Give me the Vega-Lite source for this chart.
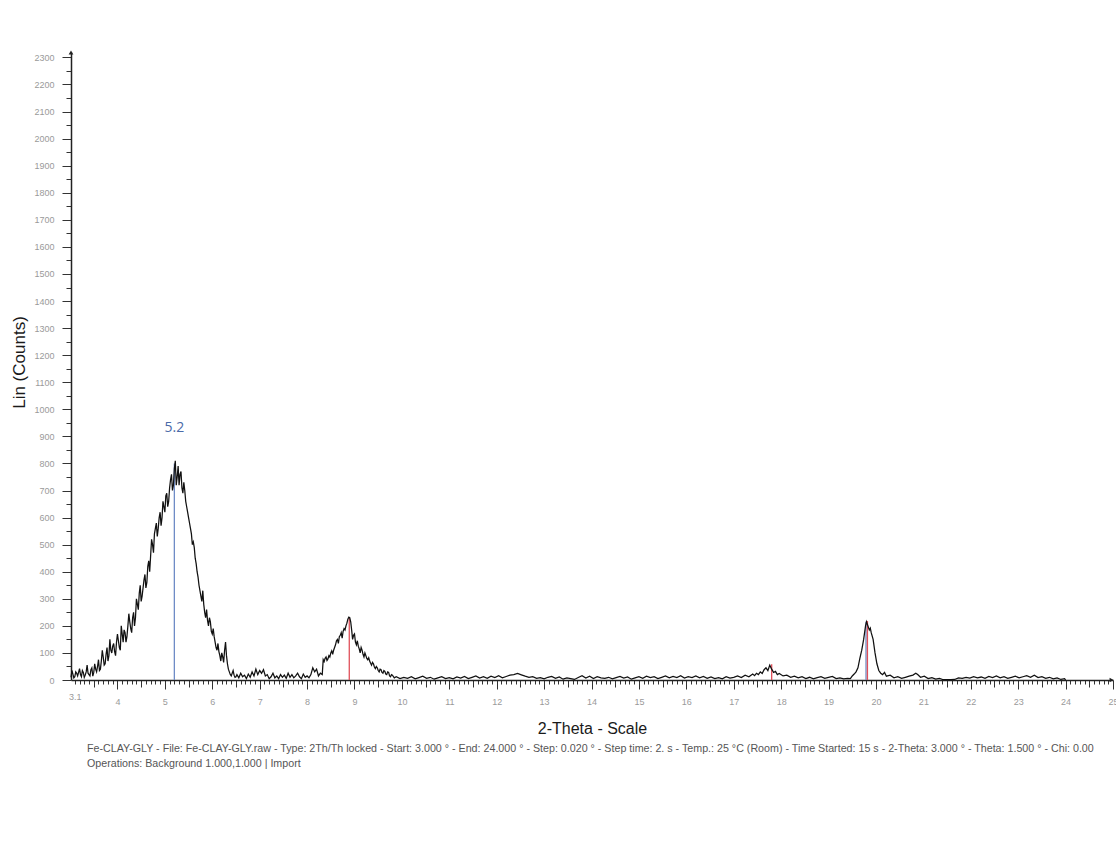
{
  "$schema": "https://vega.github.io/schema/vega-lite/v6.json",
  "width": 1042,
  "height": 628,
  "autosize": "none",
  "padding": {"left": 71, "top": 52, "right": 3, "bottom": 179},
  "background": "white",
  "config": {"view": {"stroke": null}, "font": "Liberation Sans"},
  "title": {
    "text": ["Fe-CLAY-GLY - File: Fe-CLAY-GLY.raw - Type: 2Th/Th locked - Start: 3.000 ° - End: 24.000 ° - Step: 0.020 ° - Step time: 2. s - Temp.: 25 °C (Room) - Time Started: 15 s - 2-Theta: 3.000 ° - Theta: 1.500 ° - Chi: 0.00", "Operations: Background 1.000,1.000 | Import"],
    "orient": "bottom", "anchor": "start", "frame": "group", "offset": 8, "dx": 16,
    "fontSize": 10.7, "font": "Liberation Sans", "fontWeight": "normal", "color": "#555555", "lineHeight": 15, "baseline": "top"
  },
  "datasets": {
    "xrd": [
      {"t":3.02,"c":10},{"t":3.04,"c":35},{"t":3.06,"c":22},{"t":3.08,"c":8},{"t":3.10,"c":12},{"t":3.12,"c":30},{"t":3.14,"c":25},{"t":3.16,"c":15},{"t":3.18,"c":28},{"t":3.20,"c":42},{"t":3.22,"c":20},{"t":3.24,"c":12},{"t":3.26,"c":35},{"t":3.28,"c":28},{"t":3.30,"c":10},{"t":3.32,"c":18},{"t":3.34,"c":30},{"t":3.36,"c":55},{"t":3.38,"c":25},{"t":3.40,"c":20},{"t":3.42,"c":15},{"t":3.44,"c":38},{"t":3.46,"c":45},{"t":3.48,"c":14},{"t":3.50,"c":28},{"t":3.52,"c":60},{"t":3.54,"c":40},{"t":3.56,"c":30},{"t":3.58,"c":50},{"t":3.60,"c":75},{"t":3.62,"c":35},{"t":3.64,"c":40},{"t":3.66,"c":70},{"t":3.68,"c":110},{"t":3.70,"c":85},{"t":3.72,"c":55},{"t":3.74,"c":60},{"t":3.76,"c":95},{"t":3.78,"c":120},{"t":3.80,"c":70},{"t":3.82,"c":90},{"t":3.84,"c":150},{"t":3.86,"c":110},{"t":3.88,"c":100},{"t":3.90,"c":125},{"t":3.92,"c":135},{"t":3.94,"c":105},{"t":3.96,"c":90},{"t":3.98,"c":140},{"t":4.00,"c":170},{"t":4.02,"c":145},{"t":4.04,"c":120},{"t":4.06,"c":110},{"t":4.08,"c":200},{"t":4.10,"c":170},{"t":4.12,"c":140},{"t":4.14,"c":185},{"t":4.16,"c":175},{"t":4.18,"c":140},{"t":4.20,"c":160},{"t":4.22,"c":200},{"t":4.24,"c":245},{"t":4.26,"c":215},{"t":4.28,"c":190},{"t":4.30,"c":175},{"t":4.32,"c":230},{"t":4.34,"c":250},{"t":4.36,"c":200},{"t":4.38,"c":230},{"t":4.40,"c":300},{"t":4.42,"c":280},{"t":4.44,"c":260},{"t":4.46,"c":320},{"t":4.48,"c":350},{"t":4.50,"c":290},{"t":4.52,"c":310},{"t":4.54,"c":340},{"t":4.56,"c":370},{"t":4.58,"c":390},{"t":4.60,"c":340},{"t":4.62,"c":360},{"t":4.64,"c":420},{"t":4.66,"c":440},{"t":4.68,"c":400},{"t":4.70,"c":460},{"t":4.72,"c":520},{"t":4.74,"c":500},{"t":4.76,"c":470},{"t":4.78,"c":540},{"t":4.80,"c":560},{"t":4.82,"c":580},{"t":4.84,"c":530},{"t":4.86,"c":560},{"t":4.88,"c":600},{"t":4.90,"c":620},{"t":4.92,"c":570},{"t":4.94,"c":600},{"t":4.96,"c":660},{"t":4.98,"c":640},{"t":5.00,"c":620},{"t":5.02,"c":680},{"t":5.04,"c":690},{"t":5.06,"c":640},{"t":5.08,"c":660},{"t":5.10,"c":710},{"t":5.12,"c":740},{"t":5.14,"c":760},{"t":5.16,"c":700},{"t":5.18,"c":720},{"t":5.20,"c":780},{"t":5.22,"c":810},{"t":5.24,"c":720},{"t":5.26,"c":750},{"t":5.28,"c":790},{"t":5.30,"c":720},{"t":5.32,"c":760},{"t":5.34,"c":770},{"t":5.36,"c":710},{"t":5.38,"c":690},{"t":5.40,"c":730},{"t":5.42,"c":700},{"t":5.44,"c":660},{"t":5.46,"c":640},{"t":5.48,"c":620},{"t":5.50,"c":600},{"t":5.52,"c":580},{"t":5.54,"c":560},{"t":5.56,"c":540},{"t":5.58,"c":500},{"t":5.60,"c":510},{"t":5.62,"c":490},{"t":5.64,"c":450},{"t":5.66,"c":430},{"t":5.68,"c":400},{"t":5.70,"c":380},{"t":5.72,"c":350},{"t":5.74,"c":330},{"t":5.76,"c":310},{"t":5.78,"c":290},{"t":5.80,"c":330},{"t":5.82,"c":280},{"t":5.84,"c":250},{"t":5.86,"c":230},{"t":5.88,"c":260},{"t":5.90,"c":220},{"t":5.92,"c":200},{"t":5.94,"c":230},{"t":5.96,"c":215},{"t":5.98,"c":180},{"t":6.00,"c":170},{"t":6.02,"c":190},{"t":6.04,"c":160},{"t":6.06,"c":140},{"t":6.08,"c":120},{"t":6.10,"c":110},{"t":6.12,"c":135},{"t":6.14,"c":105},{"t":6.16,"c":90},{"t":6.18,"c":70},{"t":6.20,"c":100},{"t":6.22,"c":85},{"t":6.24,"c":65},{"t":6.26,"c":110},{"t":6.28,"c":140},{"t":6.30,"c":90},{"t":6.32,"c":60},{"t":6.34,"c":40},{"t":6.36,"c":30},{"t":6.38,"c":20},{"t":6.40,"c":15},{"t":6.42,"c":25},{"t":6.44,"c":35},{"t":6.46,"c":18},{"t":6.48,"c":10},{"t":6.50,"c":12},
      {"t":6.52,"c":20},{"t":6.56,"c":8},{"t":6.60,"c":25},{"t":6.64,"c":12},{"t":6.68,"c":18},{"t":6.72,"c":5},{"t":6.76,"c":22},{"t":6.80,"c":10},{"t":6.84,"c":30},{"t":6.88,"c":15},{"t":6.92,"c":40},{"t":6.96,"c":20},{"t":7.00,"c":35},{"t":7.04,"c":25},{"t":7.08,"c":38},{"t":7.12,"c":15},{"t":7.16,"c":20},{"t":7.20,"c":5},{"t":7.24,"c":12},{"t":7.28,"c":25},{"t":7.32,"c":8},{"t":7.36,"c":15},{"t":7.40,"c":5},{"t":7.44,"c":20},{"t":7.48,"c":10},{"t":7.52,"c":18},{"t":7.56,"c":6},{"t":7.60,"c":25},{"t":7.64,"c":10},{"t":7.68,"c":20},{"t":7.72,"c":8},{"t":7.76,"c":15},{"t":7.80,"c":25},{"t":7.84,"c":12},{"t":7.88,"c":5},{"t":7.92,"c":22},{"t":7.96,"c":10},{"t":8.00,"c":15},{"t":8.04,"c":8},{"t":8.08,"c":20},{"t":8.12,"c":45},{"t":8.16,"c":30},{"t":8.20,"c":40},{"t":8.24,"c":15},{"t":8.28,"c":25},{"t":8.32,"c":20},
      {"t":8.34,"c":75},{"t":8.36,"c":68},{"t":8.38,"c":80},{"t":8.40,"c":85},{"t":8.42,"c":72},{"t":8.44,"c":78},{"t":8.46,"c":90},{"t":8.48,"c":85},{"t":8.50,"c":100},{"t":8.52,"c":108},{"t":8.54,"c":95},{"t":8.56,"c":110},{"t":8.58,"c":120},{"t":8.60,"c":130},{"t":8.62,"c":145},{"t":8.64,"c":150},{"t":8.66,"c":135},{"t":8.68,"c":160},{"t":8.70,"c":165},{"t":8.72,"c":175},{"t":8.74,"c":155},{"t":8.76,"c":180},{"t":8.78,"c":190},{"t":8.80,"c":185},{"t":8.82,"c":200},{"t":8.84,"c":210},{"t":8.86,"c":225},{"t":8.88,"c":232},{"t":8.90,"c":230},{"t":8.92,"c":215},{"t":8.94,"c":185},{"t":8.96,"c":150},{"t":8.98,"c":165},{"t":9.00,"c":170},{"t":9.02,"c":140},{"t":9.04,"c":130},{"t":9.06,"c":145},{"t":9.08,"c":125},{"t":9.10,"c":115},{"t":9.12,"c":100},{"t":9.14,"c":120},{"t":9.16,"c":110},{"t":9.18,"c":95},{"t":9.20,"c":85},{"t":9.22,"c":100},{"t":9.24,"c":90},{"t":9.26,"c":80},{"t":9.28,"c":75},{"t":9.30,"c":82},{"t":9.32,"c":70},{"t":9.34,"c":62},{"t":9.36,"c":55},{"t":9.38,"c":65},{"t":9.40,"c":60},{"t":9.42,"c":48},{"t":9.44,"c":42},{"t":9.46,"c":50},{"t":9.48,"c":45},{"t":9.50,"c":35},{"t":9.52,"c":30},{"t":9.54,"c":40},{"t":9.56,"c":38},{"t":9.58,"c":28},{"t":9.60,"c":25},{"t":9.62,"c":35},{"t":9.64,"c":32},{"t":9.66,"c":22},{"t":9.68,"c":20},{"t":9.70,"c":30},{"t":9.72,"c":28},{"t":9.74,"c":15},{"t":9.76,"c":12},{"t":9.78,"c":20},{"t":9.80,"c":18},{"t":9.84,"c":8},{"t":9.88,"c":12},
      {"t":9.96,"c":5},{"t":10.04,"c":10},{"t":10.12,"c":6},{"t":10.20,"c":12},{"t":10.28,"c":4},{"t":10.36,"c":9},{"t":10.44,"c":14},{"t":10.52,"c":6},{"t":10.60,"c":10},{"t":10.68,"c":3},{"t":10.76,"c":8},{"t":10.84,"c":12},{"t":10.92,"c":5},{"t":11.00,"c":9},{"t":11.08,"c":4},{"t":11.16,"c":11},{"t":11.24,"c":7},{"t":11.32,"c":13},{"t":11.40,"c":5},{"t":11.48,"c":10},{"t":11.56,"c":15},{"t":11.64,"c":7},{"t":11.72,"c":12},{"t":11.80,"c":6},{"t":11.88,"c":14},{"t":11.96,"c":9},{"t":12.04,"c":16},{"t":12.12,"c":8},{"t":12.20,"c":13},{"t":12.28,"c":18},{"t":12.36,"c":20},{"t":12.44,"c":24},{"t":12.52,"c":19},{"t":12.60,"c":14},{"t":12.68,"c":10},{"t":12.76,"c":12},{"t":12.84,"c":6},{"t":12.92,"c":9},{"t":13.00,"c":4},{"t":13.08,"c":10},{"t":13.16,"c":13},{"t":13.24,"c":6},{"t":13.32,"c":11},{"t":13.40,"c":3},{"t":13.48,"c":8},{"t":13.56,"c":5},{"t":13.64,"c":2},{"t":13.72,"c":9},{"t":13.80,"c":16},{"t":13.88,"c":7},{"t":13.96,"c":14},{"t":14.04,"c":5},{"t":14.12,"c":12},{"t":14.20,"c":8},{"t":14.28,"c":6},{"t":14.36,"c":10},{"t":14.44,"c":4},{"t":14.52,"c":9},{"t":14.60,"c":13},{"t":14.68,"c":7},{"t":14.76,"c":11},{"t":14.84,"c":3},{"t":14.92,"c":8},{"t":15.00,"c":12},{"t":15.08,"c":6},{"t":15.16,"c":14},{"t":15.24,"c":9},{"t":15.32,"c":12},{"t":15.40,"c":5},{"t":15.48,"c":10},{"t":15.56,"c":15},{"t":15.64,"c":8},{"t":15.72,"c":13},{"t":15.80,"c":9},{"t":15.88,"c":16},{"t":15.96,"c":7},{"t":16.04,"c":12},{"t":16.12,"c":9},{"t":16.20,"c":15},{"t":16.28,"c":8},{"t":16.36,"c":13},{"t":16.44,"c":6},{"t":16.52,"c":11},{"t":16.60,"c":5},{"t":16.68,"c":9},{"t":16.76,"c":4},{"t":16.84,"c":12},{"t":16.92,"c":7},{"t":17.00,"c":10},{"t":17.08,"c":15},{"t":17.16,"c":9},{"t":17.24,"c":18},{"t":17.32,"c":12},{"t":17.40,"c":22},{"t":17.44,"c":16},{"t":17.48,"c":25},{"t":17.52,"c":20},{"t":17.56,"c":30},{"t":17.60,"c":24},{"t":17.64,"c":38},{"t":17.68,"c":45},{"t":17.72,"c":35},{"t":17.76,"c":55},{"t":17.80,"c":40},{"t":17.84,"c":28},{"t":17.88,"c":32},{"t":17.92,"c":20},{"t":17.96,"c":24},{"t":18.04,"c":15},{"t":18.12,"c":18},{"t":18.20,"c":10},{"t":18.28,"c":14},{"t":18.36,"c":8},{"t":18.44,"c":12},{"t":18.52,"c":5},{"t":18.60,"c":10},{"t":18.68,"c":4},{"t":18.76,"c":9},{"t":18.84,"c":12},{"t":18.92,"c":6},{"t":19.00,"c":10},{"t":19.08,"c":13},{"t":19.16,"c":5},{"t":19.24,"c":8},{"t":19.32,"c":4},{"t":19.40,"c":6},{"t":19.46,"c":5},{"t":19.50,"c":15},{"t":19.54,"c":22},{"t":19.58,"c":30},{"t":19.62,"c":45},{"t":19.66,"c":80},{"t":19.70,"c":110},{"t":19.74,"c":150},{"t":19.78,"c":200},{"t":19.80,"c":215},{"t":19.82,"c":205},{"t":19.86,"c":185},{"t":19.88,"c":192},{"t":19.90,"c":175},{"t":19.94,"c":150},{"t":19.98,"c":100},{"t":20.02,"c":60},{"t":20.06,"c":35},{"t":20.10,"c":25},{"t":20.14,"c":20},{"t":20.18,"c":28},{"t":20.22,"c":14},{"t":20.30,"c":18},{"t":20.38,"c":8},{"t":20.46,"c":12},{"t":20.54,"c":6},{"t":20.62,"c":10},{"t":20.70,"c":14},{"t":20.78,"c":18},{"t":20.84,"c":25},{"t":20.88,"c":20},{"t":20.94,"c":10},{"t":21.02,"c":14},{"t":21.10,"c":5},{"t":21.18,"c":9},{"t":21.26,"c":3},{"t":21.34,"c":6},{"t":21.42,"c":1},{"t":21.50,"c":1},{"t":21.58,"c":1},{"t":21.66,"c":2},{"t":21.74,"c":8},{"t":21.82,"c":6},{"t":21.90,"c":10},{"t":21.98,"c":7},{"t":22.06,"c":12},{"t":22.14,"c":8},{"t":22.22,"c":11},{"t":22.30,"c":6},{"t":22.38,"c":13},{"t":22.46,"c":9},{"t":22.54,"c":15},{"t":22.62,"c":8},{"t":22.70,"c":12},{"t":22.78,"c":6},{"t":22.86,"c":10},{"t":22.94,"c":14},{"t":23.02,"c":8},{"t":23.10,"c":12},{"t":23.18,"c":16},{"t":23.26,"c":10},{"t":23.34,"c":18},{"t":23.42,"c":9},{"t":23.50,"c":12},{"t":23.58,"c":6},{"t":23.66,"c":10},{"t":23.74,"c":4},{"t":23.82,"c":8},{"t":23.90,"c":2},{"t":23.98,"c":5},{"t":24.00,"c":0}
    ],
    "peaks": [
      {"t":5.20,"c":800,"kind":"A"},
      {"t":8.89,"c":230,"kind":"B"},
      {"t":17.80,"c":58,"kind":"B"},
      {"t":19.79,"c":215,"kind":"A"},
      {"t":19.82,"c":218,"kind":"B"}
    ],
    "labels": [{"t":5.2,"c":930,"txt":"5.2"}],
    "arrows": [{"t":3.02,"c":2318,"dir":"up"},{"t":24.97,"c":0,"dir":"right"}]
  },
  "layer": [
    {
      "data": {"name": "peaks"},
      "mark": {"type": "rule", "strokeWidth": 1.3},
      "encoding": {
        "x": {"field": "t", "type": "quantitative", "scale": {"domain": [3.02, 25.0], "nice": false, "zero": false},
          "axis": {
            "values": [3.1,3.2,3.3,3.4,3.5,3.6,3.7,3.8,3.9,4,4.1,4.2,4.3,4.4,4.5,4.6,4.7,4.8,4.9,5,5.1,5.2,5.3,5.4,5.5,5.6,5.7,5.8,5.9,6,6.1,6.2,6.3,6.4,6.5,6.6,6.7,6.8,6.9,7,7.1,7.2,7.3,7.4,7.5,7.6,7.7,7.8,7.9,8,8.1,8.2,8.3,8.4,8.5,8.6,8.7,8.8,8.9,9,9.1,9.2,9.3,9.4,9.5,9.6,9.7,9.8,9.9,10,10.1,10.2,10.3,10.4,10.5,10.6,10.7,10.8,10.9,11,11.1,11.2,11.3,11.4,11.5,11.6,11.7,11.8,11.9,12,12.1,12.2,12.3,12.4,12.5,12.6,12.7,12.8,12.9,13,13.1,13.2,13.3,13.4,13.5,13.6,13.7,13.8,13.9,14,14.1,14.2,14.3,14.4,14.5,14.6,14.7,14.8,14.9,15,15.1,15.2,15.3,15.4,15.5,15.6,15.7,15.8,15.9,16,16.1,16.2,16.3,16.4,16.5,16.6,16.7,16.8,16.9,17,17.1,17.2,17.3,17.4,17.5,17.6,17.7,17.8,17.9,18,18.1,18.2,18.3,18.4,18.5,18.6,18.7,18.8,18.9,19,19.1,19.2,19.3,19.4,19.5,19.6,19.7,19.8,19.9,20,20.1,20.2,20.3,20.4,20.5,20.6,20.7,20.8,20.9,21,21.1,21.2,21.3,21.4,21.5,21.6,21.7,21.8,21.9,22,22.1,22.2,22.3,22.4,22.5,22.6,22.7,22.8,22.9,23,23.1,23.2,23.3,23.4,23.5,23.6,23.7,23.8,23.9,24,24.1,24.2,24.3,24.4,24.5,24.6,24.7,24.8,24.9,25],
            "tickCount": 1000,
            "labelExpr": "abs(datum.value-round(datum.value))<0.01 ? format(round(datum.value),'d') : (abs(datum.value-3.1)<0.01 ? '3.1' : '')",
            "tickSize": {"condition": [{"test": "abs(datum.value-round(datum.value))<0.01", "value": 9}, {"test": "abs(datum.value*2-round(datum.value*2))<0.01", "value": 7}], "value": 4},
            "tickColor": "#333333", "tickWidth": 1,
            "domainColor": "#222222", "domainWidth": 1.5,
            "labelFont": "Liberation Sans", "labelFontSize": 9, "labelColor": "#9a9a9a", "labelPadding": 12, "labelBaseline": "middle",
            "labelOverlap": false, "labelFlush": false, "grid": false,
            "title": "2-Theta - Scale", "titleFont": "Liberation Sans", "titleFontSize": 16, "titleFontWeight": "normal", "titleColor": "#1a1a1a",
            "titleBaseline": "alphabetic", "titleY": 53
          }
        },
        "y": {"field": "c", "type": "quantitative", "scale": {"domain": [0, 2320], "nice": false},
          "axis": {
            "values": [0,50,100,150,200,250,300,350,400,450,500,550,600,650,700,750,800,850,900,950,1000,1050,1100,1150,1200,1250,1300,1350,1400,1450,1500,1550,1600,1650,1700,1750,1800,1850,1900,1950,2000,2050,2100,2150,2200,2250,2300],
            "tickCount": 1000,
            "labelExpr": "datum.value % 100 === 0 ? datum.label : ''",
            "tickSize": {"condition": {"test": "datum.value % 100 === 0", "value": 9}, "value": 5},
            "tickColor": "#333333", "tickWidth": 1,
            "domainColor": "#222222", "domainWidth": 1.5,
            "labelFont": "Liberation Sans", "labelFontSize": 9, "labelColor": "#9a9a9a", "labelPadding": 8,
            "labelOverlap": false, "labelFlush": false, "grid": false, "format": "d",
            "title": "Lin (Counts)", "titleFont": "Liberation Sans", "titleFontSize": 17, "titleFontWeight": "normal", "titleColor": "#1a1a1a",
            "titleBaseline": "middle", "titleX": -52, "titleY": 310, "titleAngle": -90
          }
        },
        "y2": {"datum": 0},
        "color": {"field": "kind", "type": "nominal", "scale": {"domain": ["A", "B"], "range": ["#6f8cc6", "#e0505a"]}, "legend": null}
      }
    },
    {
      "data": {"name": "xrd"},
      "mark": {"type": "line", "color": "#111111", "strokeWidth": 1.25, "interpolate": "linear"},
      "encoding": {
        "x": {"field": "t", "type": "quantitative"},
        "y": {"field": "c", "type": "quantitative"}
      }
    },
    {
      "data": {"name": "labels"},
      "mark": {"type": "text", "font": "Open Sans", "fontSize": 14, "color": "#4a6aa8", "baseline": "middle", "align": "center"},
      "encoding": {
        "x": {"field": "t", "type": "quantitative"},
        "y": {"field": "c", "type": "quantitative"},
        "text": {"field": "txt"}
      }
    },
    {
      "data": {"name": "arrows"},
      "mark": {"type": "point", "filled": true, "color": "#222222", "size": 22, "opacity": 1},
      "encoding": {
        "x": {"field": "t", "type": "quantitative"},
        "y": {"field": "c", "type": "quantitative"},
        "shape": {"field": "dir", "type": "nominal", "scale": {"domain": ["up", "right"], "range": ["triangle-up", "triangle-right"]}, "legend": null}
      }
    }
  ]
}
